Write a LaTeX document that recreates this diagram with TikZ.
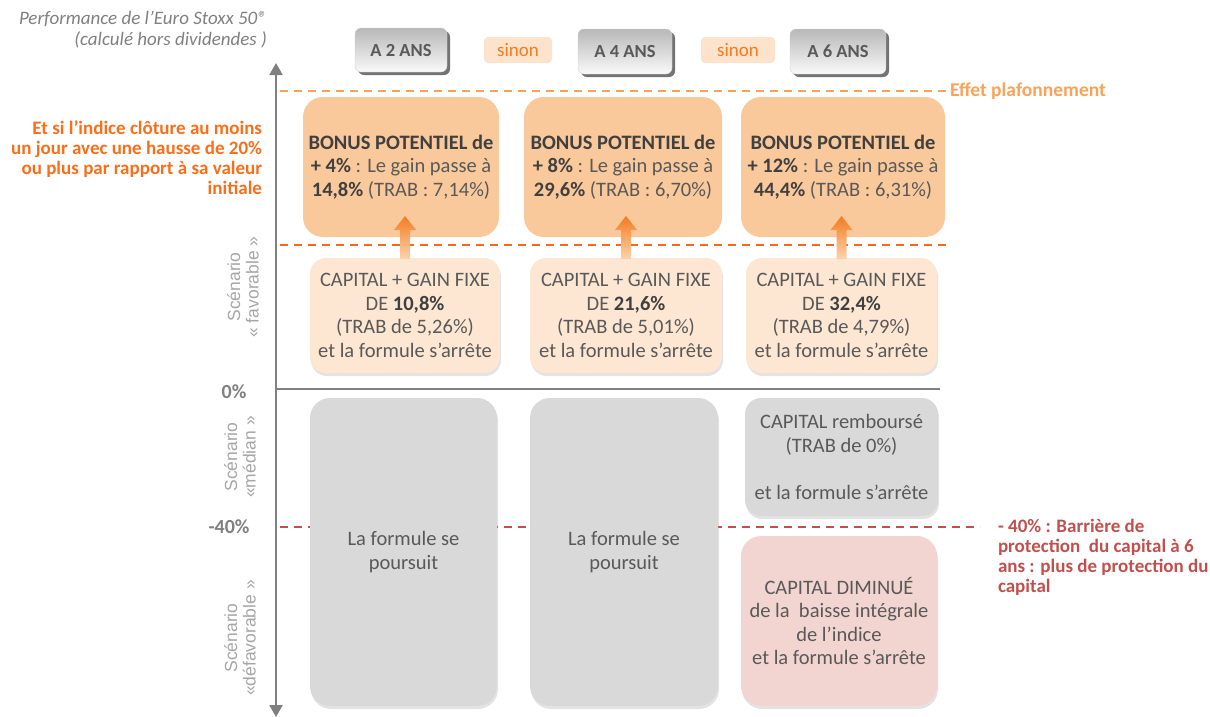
\documentclass[tikz,border=0pt]{standalone}
\usepackage{fontspec}
\setmainfont{Carlito}
\newfontfamily\arialf{Liberation Sans}
\usetikzlibrary{shadows,calc,arrows.meta}
\definecolor{txt}{HTML}{595959}
\definecolor{txtb}{HTML}{404040}
\definecolor{axisg}{HTML}{808080}
\definecolor{bonusfill}{HTML}{FAC99B}
\definecolor{capfill}{HTML}{FDE7D3}
\definecolor{grayfill}{HTML}{D9D9D9}
\definecolor{pinkfill}{HTML}{F2D5D1}
\definecolor{orlight}{HTML}{F9A25A}
\definecolor{ordark}{HTML}{F26B1D}
\definecolor{ortext}{HTML}{FA6E1A}
\definecolor{redc}{HTML}{C0504D}
\definecolor{sinonfill}{HTML}{FDE3CC}
\definecolor{sinontext}{HTML}{F47B20}
\definecolor{lgray}{HTML}{A6A6A6}
\definecolor{arrtop}{HTML}{F47B20}
\definecolor{arrbot}{HTML}{FCD3AD}
\begin{document}
\begin{tikzpicture}[x=1pt,y=-1pt,
  every node/.style={inner sep=0pt, outer sep=0pt},
  bodytext/.style={font=\fontsize{20.5}{23.5}\selectfont, text=txt, align=center},
  bonusbox/.style={bodytext, fill=bonusfill, rounded corners=20pt, anchor=north west},
  capbox/.style={bodytext, fill=capfill, rounded corners=16pt, anchor=north west,
    drop shadow={shadow xshift=1pt, shadow yshift=-3pt, opacity=0.22}},
  graybox/.style={bodytext, fill=grayfill, rounded corners=20pt, anchor=north west,
    drop shadow={shadow xshift=1pt, shadow yshift=-3pt, opacity=0.22}},
  pinkbox/.style={bodytext, fill=pinkfill, rounded corners=20pt, anchor=north west,
    drop shadow={shadow xshift=1pt, shadow yshift=-3pt, opacity=0.22}},
  yearbox/.style={font=\fontsize{18.5}{20}\selectfont\bfseries, text=txt, anchor=north west,
    rounded corners=6pt, top color=black!28, bottom color=black!2, draw=black!18,
    drop shadow={shadow xshift=3pt, shadow yshift=-3pt, fill=black!55, opacity=1}},
  sinonbox/.style={font=\fontsize{19}{21}\selectfont, text=sinontext, fill=sinonfill,
    rounded corners=4pt, anchor=north west},
  scen/.style={font=\arialf\fontsize{17.5}{18.5}\selectfont, text=lgray, align=center, rotate=90},
  pct/.style={font=\fontsize{20}{22}\selectfont\bfseries, text=axisg},
  dashline/.style={line width=2pt, dash pattern=on 8pt off 6pt},
  upar/.style={top color=arrtop, bottom color=arrbot}
]
\useasboundingbox (0,0) rectangle (1210,716);

% header
\node[anchor=north east, align=right, font=\fontsize{19}{21.5}\selectfont\itshape, text=axisg] (perf) at (267,11)
  {Performance de l’Euro Stoxx 50®\\(calculé hors dividendes )};

\node[yearbox, minimum width=92pt, minimum height=44pt] (y2) at (355,28) {A 2 ANS};
\node[sinonbox, minimum width=68pt, minimum height=26pt] (s1) at (484,37) {sinon};
\node[yearbox, minimum width=94pt, minimum height=45pt] (y4) at (578,29) {A 4 ANS};
\node[sinonbox, minimum width=74pt, minimum height=26pt] (s2) at (701,37) {sinon};
\node[yearbox, minimum width=96pt, minimum height=45pt] (y6) at (790,29) {A 6 ANS};

% axis
\coordinate (axtop) at (276,63);
\coordinate (axbot) at (276,717);
\coordinate (zl) at (276,389);
\coordinate (zr) at (940,389);
\draw[axisg, line width=2pt, {Triangle[width=13pt,length=12pt]}-{Triangle[width=13pt,length=12pt]}] (axbot) -- (axtop);
\draw[axisg, line width=2pt] (zl) -- (zr);

% dashed lines
\coordinate (d1l) at (280,91);  \coordinate (d1r) at (946,91);
\coordinate (d2l) at (280,245); \coordinate (d2r) at (946,245);
\coordinate (d3l) at (280,527); \coordinate (d3r) at (980,527);
\draw[dashline, orlight] (d1l) -- (d1r);
\draw[dashline, ordark] (d2l) -- (d2r);
\draw[dashline, redc] (d3l) -- (d3r);

\node[anchor=west, font=\fontsize{19.5}{21}\selectfont\bfseries, text=orlight] (eff) at (950,91) {Effet plafonnement};

\node[anchor=north east, align=right, font=\fontsize{19}{20}\selectfont\bfseries, text=ortext] (cond) at (262,121)
  {Et si l’indice clôture au moins\\un jour avec une hausse de 20\%\\ou plus par rapport à sa valeur\\initiale};

\node[anchor=north west, align=left, font=\fontsize{19}{20}\selectfont\bfseries, text=redc] (barr) at (998,519)
  {- 40\% : Barrière de\\protection \ du capital à 6\\ans : plus de protection du\\capital};

\node[pct] (p0) at (234,392) {0\%};
\node[pct] (p40) at (229,527) {-40\%};

\node[scen] (sf) at (243,287) {Scénario\\« favorable »};
\node[scen] (sm) at (240,457) {Scénario\\«médian »};
\node[scen] (sd) at (240,638) {Scénario\\«défavorable »};

% bonus boxes
\node[bonusbox, minimum width=196pt, minimum height=140pt] (b1) at (303,97)
  {\textbf{\color{txtb}BONUS POTENTIEL de}\\\textbf{\color{txtb}+ 4\%} : Le gain passe à\\\textbf{\color{txtb}14,8\%} (TRAB : 7,14\%)};
\node[bonusbox, minimum width=198pt, minimum height=140pt] (b2) at (524,97)
  {\textbf{\color{txtb}BONUS POTENTIEL de}\\\textbf{\color{txtb}+ 8\%} : Le gain passe à\\\textbf{\color{txtb}29,6\%} (TRAB : 6,70\%)};
\node[bonusbox, minimum width=204pt, minimum height=140pt] (b3) at (741,97)
  {\textbf{\color{txtb}BONUS POTENTIEL de}\\\textbf{\color{txtb}+ 12\%} : Le gain passe à\\\textbf{\color{txtb}44,4\%} (TRAB : 6,31\%)};

% capital boxes
\node[capbox, minimum width=190pt, minimum height=115pt] (c1) at (310,258)
  {CAPITAL + GAIN FIXE\\DE \textbf{\color{txtb}10,8\%}\\(TRAB de 5,26\%)\\et la formule s’arrête};
\node[capbox, minimum width=192pt, minimum height=115pt] (c2) at (530,258)
  {CAPITAL + GAIN FIXE\\DE \textbf{\color{txtb}21,6\%}\\(TRAB de 5,01\%)\\et la formule s’arrête};
\node[capbox, minimum width=191pt, minimum height=115pt] (c3) at (746,258)
  {CAPITAL + GAIN FIXE\\DE \textbf{\color{txtb}32,4\%}\\(TRAB de 4,79\%)\\et la formule s’arrête};

% arrows
\foreach \c in {c1,c2,c3}{
  \shade[upar] ($(\c.north)+(-5,1)$) -- ++(0,-29) -- ++(-6,0) -- ++(11,-14) -- ++(11,14) -- ++(-6,0) -- ++(0,29) -- cycle;
}

% lower boxes
\node[graybox, minimum width=187pt, minimum height=308pt] (g1) at (310,398) {La formule se\\poursuit};
\node[graybox, minimum width=188pt, minimum height=308pt] (g2) at (530,398) {La formule se\\poursuit};
\node[graybox, rounded corners=16pt, minimum width=193pt, minimum height=118pt] (r3) at (745,398)
  {CAPITAL remboursé\\(TRAB de 0\%)\\\strut\\et la formule s’arrête};
\node[pinkbox, minimum width=196pt, minimum height=170pt] (k3) at (741,536)
  {CAPITAL DIMINUÉ\\de la \ baisse intégrale\\de l’indice\\et la formule s’arrête};
\end{tikzpicture}
\end{document}
